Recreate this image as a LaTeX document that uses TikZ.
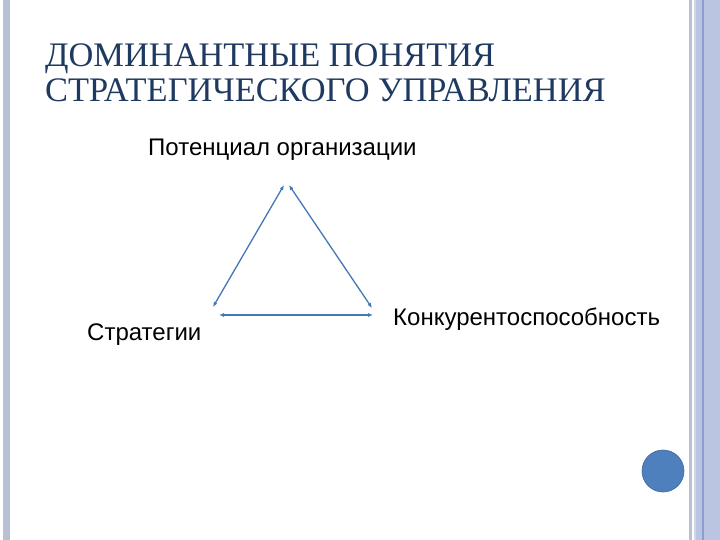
\documentclass[tikz,border=0pt]{standalone}
\usepackage{fontspec}
\setmainfont{Liberation Serif}
\newfontfamily\labelfont{Liberation Sans}
\usepackage{xcolor}
\usetikzlibrary{arrows.meta}
\definecolor{titleblue}{HTML}{1F3A60}
\definecolor{linkblue}{HTML}{4477B5}
\definecolor{stripegray}{HTML}{B7C1D3}
\definecolor{stripeblue}{HTML}{BAC5E2}
\definecolor{stripedark}{HTML}{8A9ED2}
\definecolor{dotblue}{HTML}{4F80BE}
\tikzset{
  title/.style={anchor=base west, inner sep=0pt, text=titleblue, font=\fontsize{34.4}{36}\selectfont},
  concept/.style={anchor=base west, inner sep=0pt, font=\labelfont\fontsize{24}{28}\selectfont},
  link/.style={{Latex[length=5pt,width=4pt]}-{Latex[length=5pt,width=4pt]}, linkblue, line width=1.3pt}
}
\begin{document}
\begin{tikzpicture}[x=1pt, y=-1pt]
      % page frame, pixel coordinates with y going down
      \useasboundingbox (0, 0) rectangle (720, 540);
      \fill[white] (0, 0) rectangle (720, 540);
      \fill[stripegray] (3, 0) rectangle (10, 540);
      \fill[stripegray] (689, 0) rectangle (692, 540);
      \fill[stripeblue!70] (694, 0) rectangle (696, 540);
      \fill[stripeblue] (696, 0) rectangle (720, 540);
      \fill[stripedark] (702, 0) rectangle (703.5, 540);
      \fill[dotblue, draw=dotblue!80!black, line width=.6pt] (663, 471) circle (21);

      % heading
      \node[title] (head1) at (45, 67) {ДОМИНАНТНЫЕ ПОНЯТИЯ};
      \node[title] (head2) at (45, 102) {СТРАТЕГИЧЕСКОГО УПРАВЛЕНИЯ};

      % triangle of concepts
      \node[concept] (potential) at (148, 156) {Потенциал организации};
      \node[concept] (strategy) at (87, 340) {Стратегии};
      \node[concept] (compet) at (393, 325) {Конкурентоспособность};
      \coordinate (topL) at (284, 185);
      \coordinate (topR) at (289, 185);
      \coordinate (botL) at (213, 307);
      \coordinate (botR) at (372, 308);
      \coordinate (baseL) at (219, 315);
      \coordinate (baseR) at (373, 315);
      \draw[link] (topL) -- (botL);
      \draw[link] (topR) -- (botR);
      \draw[link] (baseL) -- (baseR);
\end{tikzpicture}
\end{document}
